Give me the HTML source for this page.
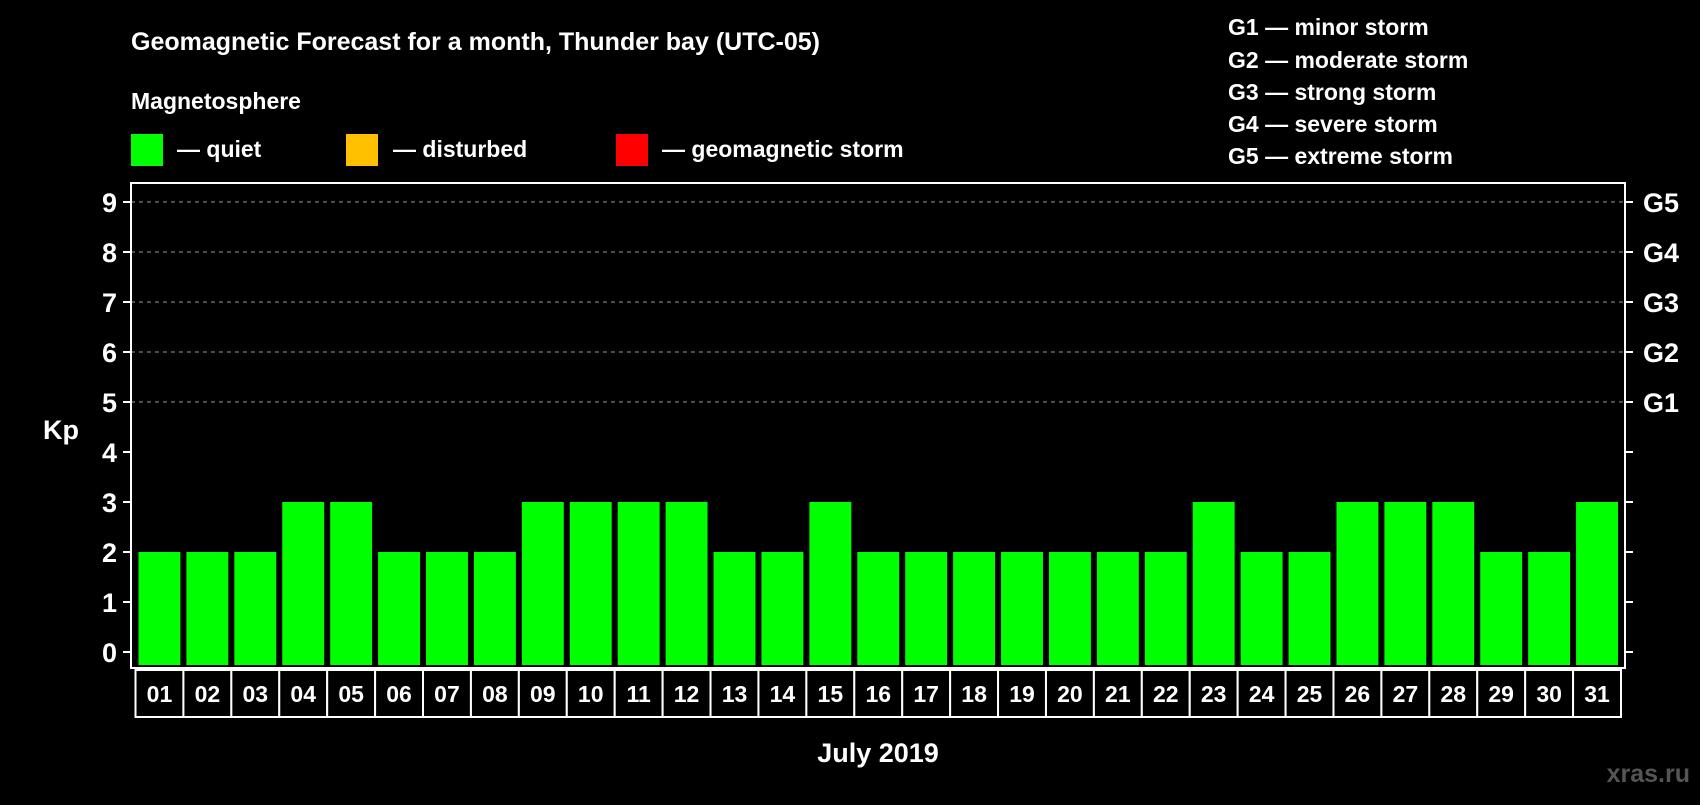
<!DOCTYPE html>
<html><head><meta charset="utf-8"><style>
body{margin:0;background:#000;width:1700px;height:800px;overflow:hidden}
svg text{font-family:"Liberation Sans",sans-serif;font-weight:bold;fill:#fff}
</style></head><body>
<svg id="chart" width="1700" height="800" viewBox="0 0 1700 800">
<text x="131" y="50" font-size="25">Geomagnetic Forecast for a month, Thunder bay (UTC-05)</text>
<text x="131" y="109" font-size="23">Magnetosphere</text>
<rect x="131" y="134" width="32" height="32" fill="#00ff00"/>
<text x="177" y="157" font-size="23">— quiet</text>
<rect x="346" y="134" width="32" height="32" fill="#ffc000"/>
<text x="393" y="157" font-size="23">— disturbed</text>
<rect x="616" y="134" width="32" height="32" fill="#ff0000"/>
<text x="662" y="157" font-size="23">— geomagnetic storm</text>
<g font-size="23">
<text x="1228" y="35">G1 — minor storm</text>
<text x="1228" y="68">G2 — moderate storm</text>
<text x="1228" y="100">G3 — strong storm</text>
<text x="1228" y="132">G4 — severe storm</text>
<text x="1228" y="164">G5 — extreme storm</text>
</g>
<text x="43" y="439" font-size="27">Kp</text>
<text x="878" y="762" font-size="27" text-anchor="middle">July 2019</text>
<text x="1690" y="782" font-size="25" text-anchor="end" style="fill:#555">xras.ru</text>
<g id="grid"></g><g id="bars"></g><g id="axes"></g><g id="days"></g>
</svg>
<script>
const days=["01","02","03","04","05","06","07","08","09","10","11","12","13","14","15","16","17","18","19","20","21","22","23","24","25","26","27","28","29","30","31"];
const kpValues=[2,2,2,3,3,2,2,2,3,3,3,3,2,2,3,2,2,2,2,2,2,2,3,2,2,3,3,3,2,2,3];
const yTicks=[0,1,2,3,4,5,6,7,8,9];
const gLabels=["","","","","","G1","G2","G3","G4","G5"];
const NS="http://www.w3.org/2000/svg";
const L=131,R=1625,T=183,B=668,Y0=652,UNIT=50,BX0=135.5,BX1=1621;
function y(v){return Y0-v*UNIT;}
const step=(BX1-BX0)/days.length;
function x(i){return BX0+i*step;}
function mk(tag,attrs,parent){const e=document.createElementNS(NS,tag);for(const k in attrs)e.setAttribute(k,attrs[k]);document.getElementById(parent).appendChild(e);return e;}
yTicks.forEach((t,i)=>{
 if(t>=5){const g=mk('line',{x1:L,x2:R,y1:y(t),y2:y(t),stroke:'#999','stroke-dasharray':'4,4','stroke-width':1},'grid');
 
 }
 const a=mk('line',{x1:L-8,x2:L,y1:y(t),y2:y(t),stroke:'#fff','stroke-width':2},'axes');
 
 
 const b=mk('line',{x1:R,x2:R+8,y1:y(t),y2:y(t),stroke:'#fff','stroke-width':2},'axes');
 
 
 const tx=mk('text',{x:L-14,y:y(t)+10,'font-size':27,'text-anchor':'end'},'axes');tx.textContent=t;
 
 
 if(gLabels[i]){const g2=mk('text',{x:1643,y:y(t)+10,'font-size':27},'axes');g2.textContent=gLabels[i];
 
 }
});
const fr=mk('rect',{x:L,y:T,width:R-L,height:B-T,fill:'none',stroke:'#fff','stroke-width':2},'axes');


days.forEach((d,i)=>{
 const v=kpValues[i];
 const col=v>=5?'#ff0000':(v>=4?'#ffc000':'#00ff00');
 const r=mk('rect',{x:x(i)+3,y:y(v),width:step-6,height:y(0)-y(v)+13,fill:col},'bars');
 
 
 const bx=mk('rect',{x:x(i),y:670,width:step,height:47,fill:'#000',stroke:'#fff','stroke-width':2},'days');
 
 
 const t=mk('text',{x:x(i)+step/2,y:702,'font-size':23,'text-anchor':'middle'},'days');t.textContent=d;
 
 
});
</script>
</body></html>
